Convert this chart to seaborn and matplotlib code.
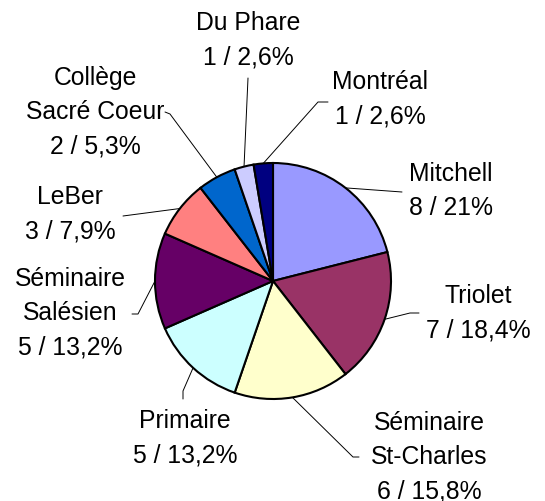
import numpy as np
import matplotlib
matplotlib.use("Agg")
import matplotlib.pyplot as plt
import seaborn as sns

# data
schools = ["Mitchell", "Triolet", "Séminaire\nSt-Charles", "Primaire",
           "Séminaire\nSalésien", "LeBer", "Collège\nSacré Coeur",
           "Du Phare", "Montréal"]
counts = [8, 7, 6, 5, 5, 3, 2, 1, 1]
pct_labels = ["21%", "18,4%", "15,8%", "13,2%", "13,2%", "7,9%", "5,3%", "2,6%", "2,6%"]
colors = ["#9999FF", "#993366", "#FFFFCC", "#CCFFFF", "#660066",
          "#FF8080", "#0066CC", "#CCCCFF", "#000080"]

# layout (image pixel coords, y down)
W, H = 545, 502
CENTER = (273, 282)
RADIUS = 118
label_pos = [(451, 191), (478, 313), (429, 457), (185, 438), (70, 313),
             (70, 214), (95, 112), (248, 40), (380, 99)]
leader_pts = [
    [(402, 193)],
    [(410, 314), (419, 314)],
    [(353, 458), (359, 458)],
    [(183, 392), (183, 400)],
    [(138, 315), (132, 315)],
    [(123, 217)],
    [(170, 115), (165, 113)],
    [(248, 79)],
    [(318, 103), (328, 103)],
]

sns.set_style("white")
plt.rcParams['font.family'] = ['Liberation Sans', 'DejaVu Sans']

fig = plt.figure(figsize=(W / 100, H / 100), dpi=100)
ax = fig.add_axes([0, 0, 1, 1])


def flip(p):
    return p[0], H - p[1]


wedges, _ = ax.pie(counts, colors=colors, startangle=90, counterclock=False,
                   center=flip(CENTER), radius=RADIUS, frame=True,
                   wedgeprops=dict(edgecolor="black", linewidth=1.5))

cx, cy = flip(CENTER)
for w, name, n, pct, tpos, pts in zip(wedges, schools, counts, pct_labels,
                                       label_pos, leader_pts):
    mid = np.deg2rad((w.theta1 + w.theta2) / 2)
    edge = (cx + RADIUS * np.cos(mid), cy + RADIUS * np.sin(mid))
    xs = [edge[0]] + [flip(p)[0] for p in pts]
    ys = [edge[1]] + [flip(p)[1] for p in pts]
    ax.plot(xs, ys, color="black", lw=0.7, zorder=0)
    tx, ty = flip(tpos)
    ax.text(tx, ty, f"{name}\n{n} / {pct}", ha="center", va="center",
            multialignment="center", fontsize=17.8, linespacing=1.55,
            color="black")

ax.set_xlim(0, W)
ax.set_ylim(0, H)
ax.set_aspect("equal")
ax.axis("off")

fig.savefig("out.png", dpi=100)
